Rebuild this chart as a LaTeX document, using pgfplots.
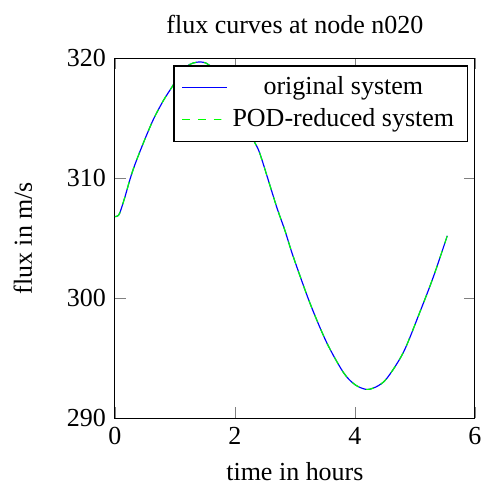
\documentclass[border=0pt]{standalone}
\usepackage{fontspec}
\setmainfont{Liberation Serif}
\usepackage{pgfplots}
\pgfplotsset{compat=1.18}
\begin{document}
\begin{tikzpicture}
\begin{axis}[
  scale only axis,
  width=138.46pt, height=138.46pt,
  xmin=0, xmax=6, ymin=290, ymax=320,
  xtick={0,2,4,6}, ytick={290,300,310,320},
  /pgf/number format/assume math mode=true,
  title={flux curves at node n020},
  xlabel={time in hours},
  ylabel={flux in m/s},
  ylabel style={yshift=6.5pt},
  legend cell align=center,
  legend style={at={(0.98,0.98)},anchor=north east},
]
\addplot[color=blue, solid, mark=none, smooth, tension=0.5, line width=0.45pt] coordinates {
(0.00,306.8) (0.04,306.85) (0.08,307.1) (0.17,308.5) (0.25,309.9) (0.33,311.1)
(0.47,312.9) (0.64,314.9) (0.81,316.5) (0.95,317.6) (1.07,318.6) (1.19,319.3)
(1.30,319.6) (1.42,319.7) (1.52,319.6) (1.58,319.4) (1.75,318.9) (1.95,317.5)
(2.15,315.4) (2.31,313.2) (2.42,312.0) (2.69,307.7) (2.83,305.7) (2.97,303.5)
(3.25,299.6) (3.53,296.3) (3.81,293.8) (4.00,292.8) (4.19,292.4) (4.35,292.6)
(4.53,293.3) (4.81,295.5) (5.08,298.8) (5.31,301.8) (5.54,305.2)
};
\addlegendentry{original system}
\addplot[color=green, dashed, mark=none, smooth, tension=0.5, line width=0.45pt] coordinates {
(0.00,306.8) (0.04,306.85) (0.08,307.1) (0.17,308.5) (0.25,309.9) (0.33,311.1)
(0.47,312.9) (0.64,314.9) (0.81,316.5) (0.95,317.6) (1.07,318.6) (1.19,319.3)
(1.30,319.6) (1.42,319.7) (1.52,319.6) (1.58,319.4) (1.75,318.9) (1.95,317.5)
(2.15,315.4) (2.31,313.2) (2.42,312.0) (2.69,307.7) (2.83,305.7) (2.97,303.5)
(3.25,299.6) (3.53,296.3) (3.81,293.8) (4.00,292.8) (4.19,292.4) (4.35,292.6)
(4.53,293.3) (4.81,295.5) (5.08,298.8) (5.31,301.8) (5.54,305.2)
};
\addlegendentry{POD-reduced system}
\end{axis}
\path (-44.23pt,-27.58pt) rectangle (143.08pt,160.88pt);
\end{tikzpicture}
\end{document}
